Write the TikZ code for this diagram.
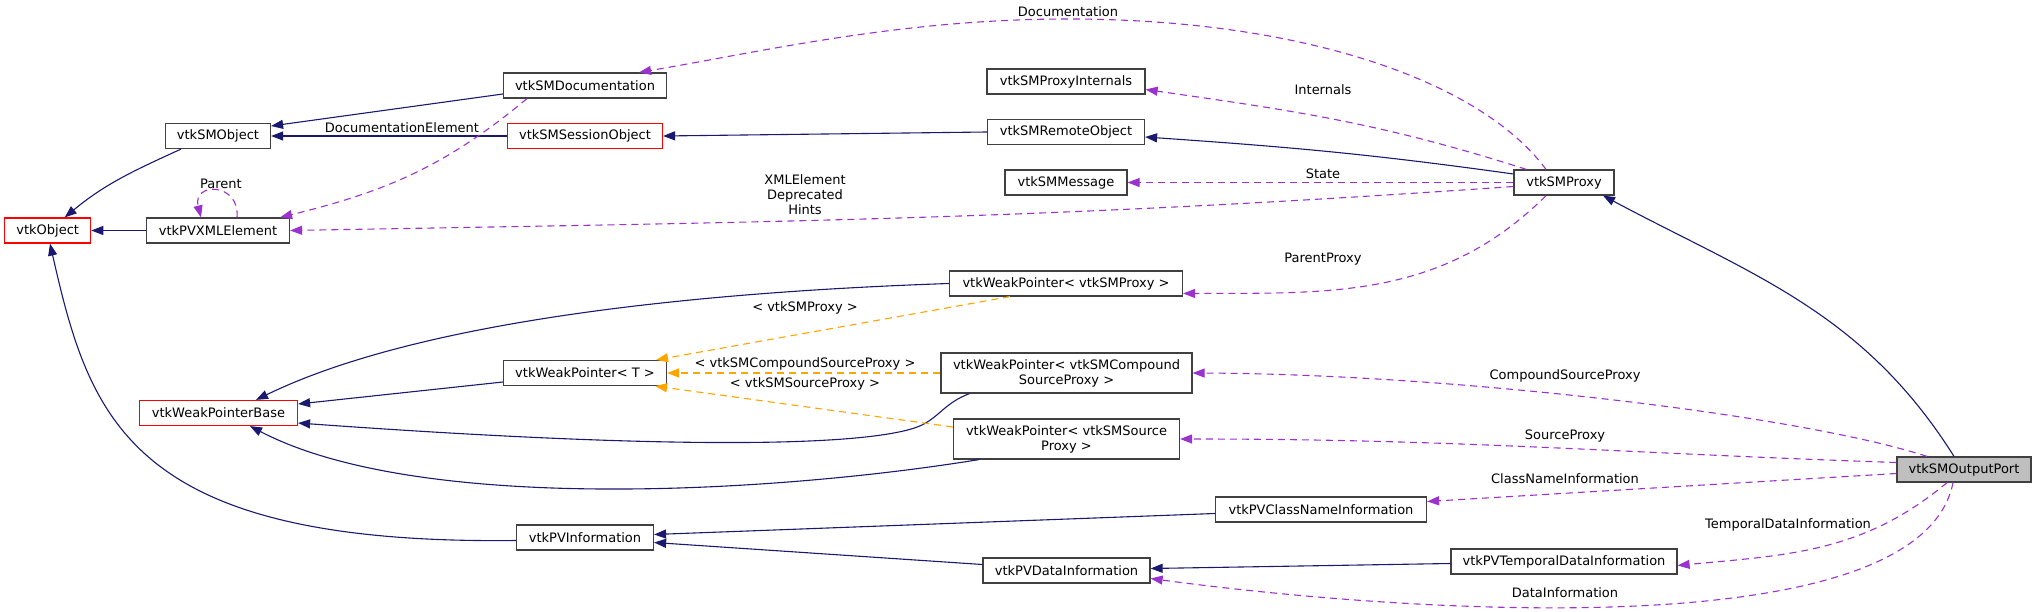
\documentclass[tikz,border=0pt]{standalone}
\usepackage{fontspec}
\setmainfont{DejaVu Sans}
\usetikzlibrary{arrows.meta}

\definecolor{inhblue}{HTML}{191970}
\definecolor{usepurple}{HTML}{9A32CD}
\definecolor{tmplorange}{HTML}{FFA500}
\definecolor{boxgray}{HTML}{404040}
\definecolor{curfill}{HTML}{BFBFBF}

\begin{document}
\begin{tikzpicture}[
  x=1pt, y=1pt,
  font=\fontsize{13}{15}\selectfont,
  box/.style={draw=boxgray, line width=1.2pt, fill=white, minimum height=25pt,
              inner xsep=6pt, inner ysep=3pt, align=center},
  redbox/.style={box, draw=red},
  curbox/.style={box, fill=curfill},
  tall/.style={minimum height=40pt},
  lbl/.style={inner sep=0pt, align=center},
  inh/.style={-{Triangle[length=12pt,width=9pt]}, line width=1.1pt, draw=inhblue},
  usage/.style={-{Triangle[length=12pt,width=9pt]}, line width=1.1pt, draw=usepurple,
                dash pattern=on 7pt off 5pt},
  tmpl/.style={-{Triangle[length=12pt,width=9pt]}, line width=1.1pt, draw=tmplorange,
               dash pattern=on 7pt off 5pt},
]
\useasboundingbox (0,0) rectangle (2036,-612);

% classes
\node[redbox, minimum width=86pt]  (obj)       at (47.7,-230.5) {vtkObject};
\node[box, minimum width=105pt]    (smobj)     at (218,-136)    {vtkSMObject};
\node[box, minimum width=143pt]    (xml)       at (218,-230.5)  {vtkPVXMLElement};
\node[redbox, minimum width=158pt] (wpb)       at (218.5,-413)  {vtkWeakPointerBase};
\node[box, minimum width=163pt]    (smdoc)     at (585,-85.5)   {vtkSMDocumentation};
\node[redbox, minimum width=155pt] (session)   at (585,-136)    {vtkSMSessionObject};
\node[box, minimum width=163pt]    (wpt)       at (585,-373)    {vtkWeakPointer< T >};
\node[box, minimum width=137pt]    (pvinfo)    at (585,-537.5)  {vtkPVInformation};
\node[box, minimum width=158pt]    (internals) at (1066,-81.5)  {vtkSMProxyInternals};
\node[box, minimum width=157pt]    (remote)    at (1066,-132)   {vtkSMRemoteObject};
\node[box, minimum width=122pt]    (msg)       at (1066,-182.5) {vtkSMMessage};
\node[box, minimum width=233pt]    (wpproxy)   at (1066,-283.5) {vtkWeakPointer< vtkSMProxy >};
\node[box, tall, minimum width=251pt] (wpcomp) at (1066.5,-373) {vtkWeakPointer< vtkSMCompound\\SourceProxy >};
\node[box, tall, minimum width=226pt] (wpsrc)  at (1066.5,-439) {vtkWeakPointer< vtkSMSource\\Proxy >};
\node[box, minimum width=167pt]    (datainfo)  at (1066.5,-570.5) {vtkPVDataInformation};
\node[box, minimum width=211pt]    (classname) at (1321,-509.5) {vtkPVClassNameInformation};
\node[box, minimum width=100pt]    (proxy)     at (1564,-182.5) {vtkSMProxy};
\node[box, minimum width=226pt]    (temporal)  at (1564,-561.5) {vtkPVTemporalDataInformation};
\node[curbox, minimum width=134pt] (port)      at (1964,-469.5) {vtkSMOutputPort};

% edge labels
\node[lbl] (ldoc)    at (1068,-12)  {Documentation};
\node[lbl] (lint)    at (1323,-90)  {Internals};
\node[lbl] (lstate)  at (1323,-174) {State};
\node[lbl] (lxml)    at (805,-195)  {XMLElement\\Deprecated\\Hints};
\node[lbl] (lpproxy) at (1323,-259) {ParentProxy};
\node[lbl] (ldocel)  at (402,-128)  {DocumentationElement};
\node[lbl] (lparent) at (221,-184)  {Parent};
\node[lbl] (lwsm)    at (805,-308)  {< vtkSMProxy >};
\node[lbl] (lwcomp)  at (805,-364)  {< vtkSMCompoundSourceProxy >};
\node[lbl] (lwsrc)   at (805,-384)  {< vtkSMSourceProxy >};
\node[lbl] (lcomp)   at (1565,-376) {CompoundSourceProxy};
\node[lbl] (lsrc)    at (1565,-436) {SourceProxy};
\node[lbl] (lclass)  at (1565,-479) {ClassNameInformation};
\node[lbl] (ltemp)   at (1788,-525) {TemporalDataInformation};
\node[lbl] (ldata)   at (1565,-593) {DataInformation};

% inheritance
\draw[inh] ([xshift=-37pt]smobj.south) .. controls (133,-171) and (105,-184) .. ([xshift=17pt]obj.north);
\draw[inh] (xml) -- (obj);
\draw[inh] ([yshift=-8.5pt]smdoc.west) -- ([yshift=10pt]smobj.east);
\draw[inh] (session) -- (smobj);
\draw[inh] (remote.west) -- (session.east);
\draw[inh] ([yshift=8.5pt]proxy.west) .. controls (1370,-154) and (1290,-147) .. ([yshift=-5pt]remote.east);
\draw[inh] ([xshift=-10pt]port.north) .. controls (1863,-312) and (1754,-276) .. ([xshift=39pt]proxy.south);
\draw[inh] (wpproxy.west) .. controls (700,-292) and (420,-320) .. ([xshift=37.5pt]wpb.north);
\draw[inh] ([yshift=-9pt]wpt.west) -- ([yshift=9pt]wpb.east);
\draw[inh] ([xshift=29pt]wpcomp.south west) .. controls (945,-403) and (940,-416) .. (922,-425)
           .. controls (880,-445) and (700,-452) .. ([yshift=-10pt]wpb.east);
\draw[inh] ([xshift=26pt]wpsrc.south west) .. controls (780,-492) and (420,-515) .. ([xshift=31.5pt]wpb.south);
\draw[inh] ([yshift=-3pt]pvinfo.west) .. controls (130,-545) and (90,-420) .. ([xshift=2.3pt]obj.south);
\draw[inh] ([yshift=-4pt]classname.west) -- ([yshift=3pt]pvinfo.east);
\draw[inh] ([yshift=6pt]datainfo.west) -- ([yshift=-5pt]pvinfo.east);
\draw[inh] ([yshift=-2pt]temporal.west) -- ([yshift=2pt]datainfo.east);

% template instances
\draw[tmpl] ([xshift=-56pt]wpproxy.south) -- ([xshift=-11pt]wpt.north east);
\draw[tmpl] (wpcomp) -- (wpt);
\draw[tmpl] ([yshift=12pt]wpsrc.west) -- ([xshift=-12pt]wpt.south east);

% usage
\draw[usage] ([xshift=-18pt]proxy.north) .. controls (1480,-80) and (1300,-19) .. (1068,-19)
             .. controls (900,-19) and (760,-52) .. ([xshift=-28pt]smdoc.north east);
\draw[usage] ([xshift=13pt]proxy.north west) .. controls (1381,-123) and (1296,-111) .. ([yshift=-8pt]internals.east);
\draw[usage] (proxy) -- (msg);
\draw[usage] ([yshift=-4pt]proxy.west) .. controls (1036,-220) and (769,-222) .. (xml.east);
\draw[usage] ([xshift=-18pt]proxy.south) .. controls (1442,-299) and (1330,-293) .. ([yshift=-10pt]wpproxy.east);
\draw[usage] ([xshift=-58pt]smdoc.south) .. controls (445,-167) and (384,-192) .. ([xshift=-10pt]xml.north east);
\draw[usage] ([xshift=19pt]xml.north) .. controls (240,-182) and (192,-182) .. ([xshift=-17pt]xml.north);
\draw[usage] ([xshift=-37pt]port.north) .. controls (1800,-415) and (1450,-374) .. (wpcomp.east);
\draw[usage] ([yshift=7pt]port.west) .. controls (1616,-453) and (1461,-439) .. (wpsrc.east);
\draw[usage] ([yshift=-4pt]port.west) -- ([yshift=8pt]classname.east);
\draw[usage] ([xshift=-17pt]port.south) .. controls (1863,-553) and (1787,-555) .. ([yshift=-4pt]temporal.east);
\draw[usage] ([xshift=-11pt]port.south) .. controls (1920,-650) and (1400,-612) .. ([yshift=-8pt]datainfo.east);
\end{tikzpicture}
\end{document}
